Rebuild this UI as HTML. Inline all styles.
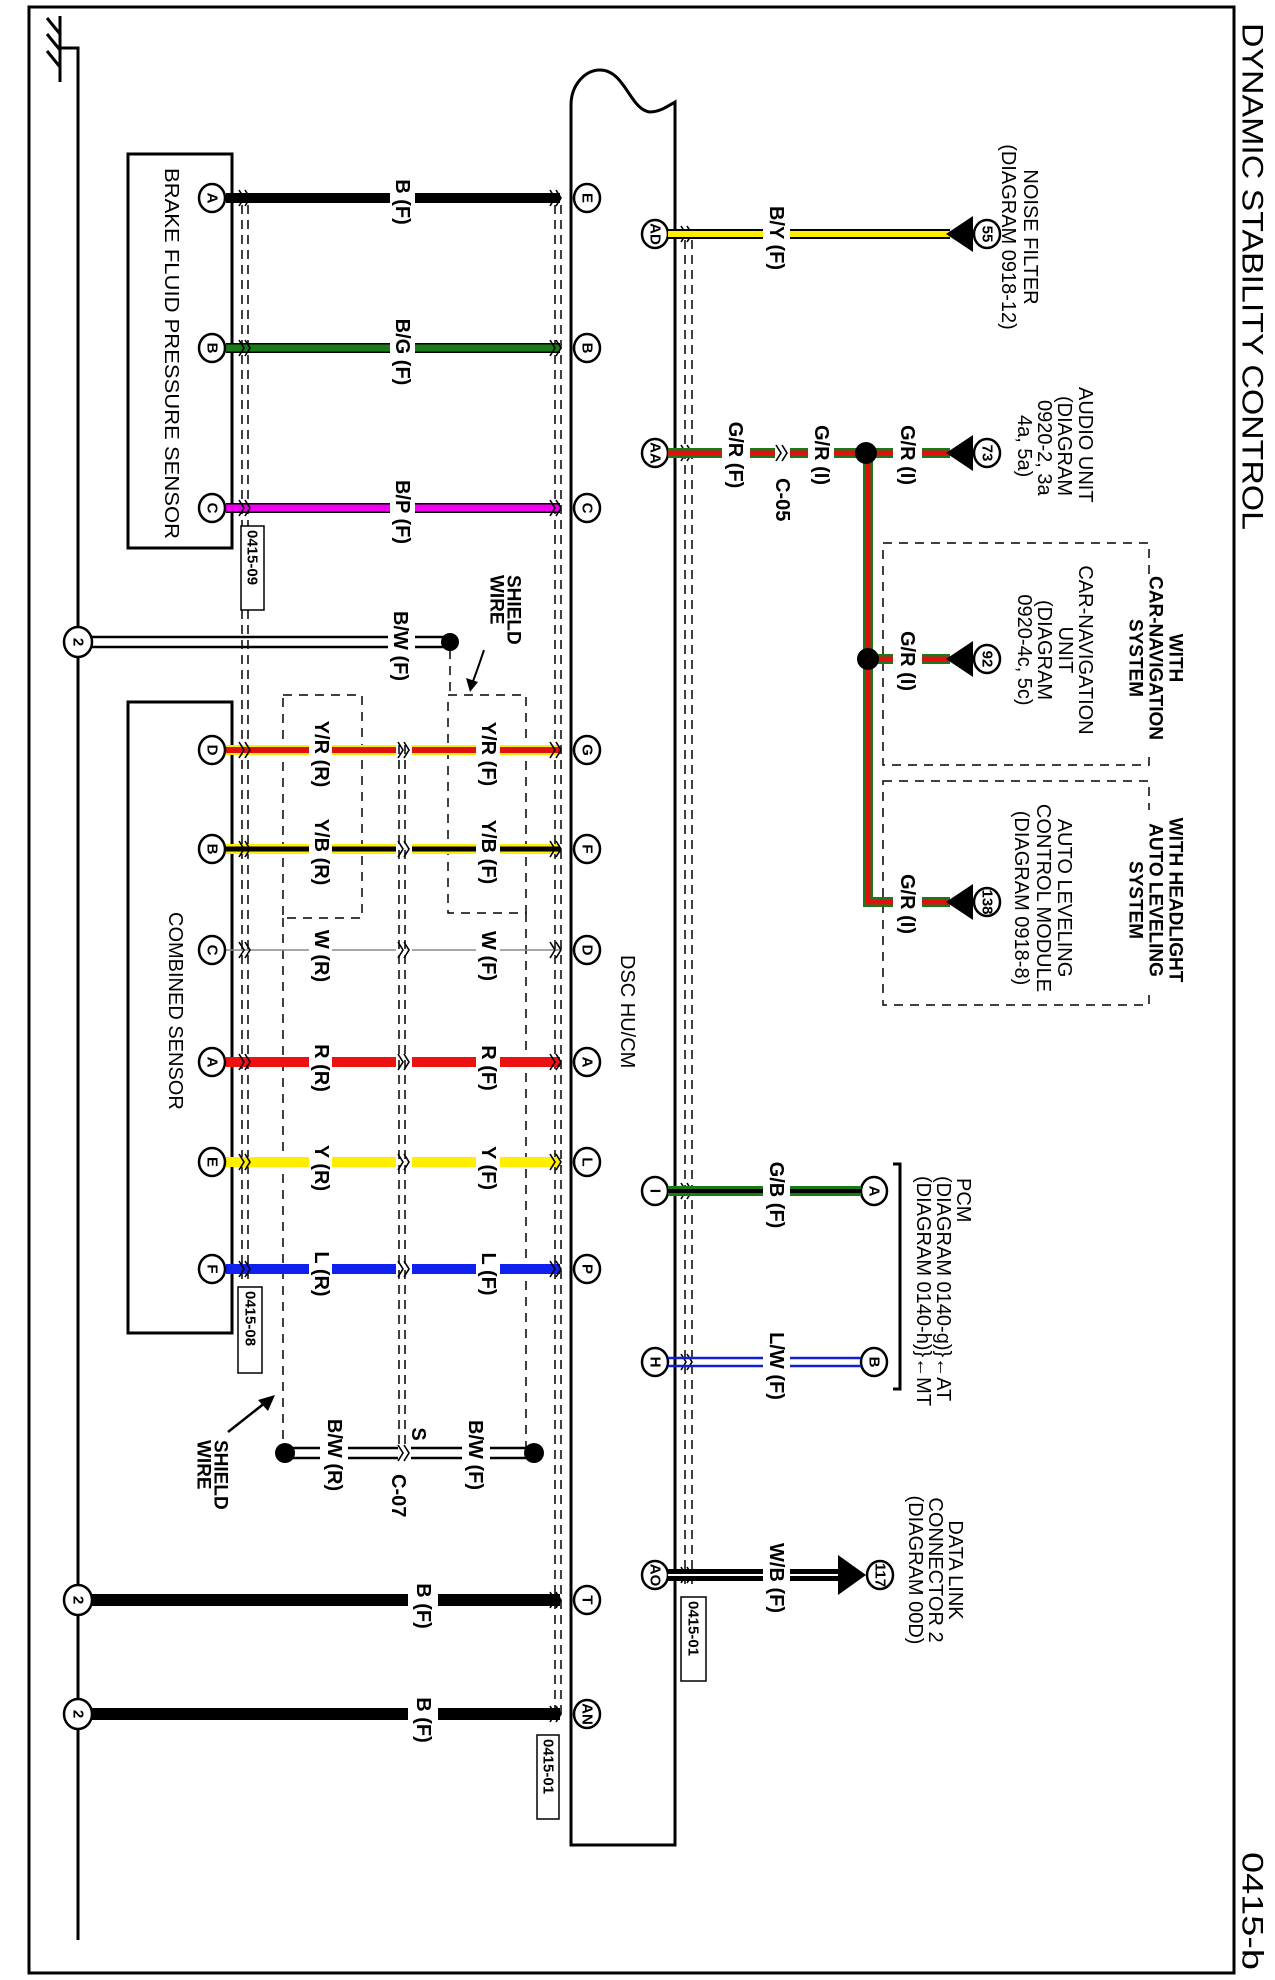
<!DOCTYPE html>
<html><head><meta charset="utf-8"><style>
html,body{margin:0;padding:0;background:#fff;}
svg{display:block;}
text{font-family:"Liberation Sans",Arial,sans-serif;fill:#000;}
.wl{font-size:20px;font-weight:bold;}
.cl{font-size:20px;}
.bl{font-size:19px;font-weight:bold;}
.pn{font-size:15px;font-weight:bold;}
</style></head><body>
<svg width="1275" height="1980" viewBox="0 0 1275 1980" xmlns="http://www.w3.org/2000/svg">
<defs>
<g id="chev"><path d="M-6 -8 L-1 0 L-6 8 M0 -8 L5 0 L0 8" fill="none" stroke="#000" stroke-width="1.6"/></g>
</defs>
<rect x="29" y="7" width="1205" height="1966" fill="none" stroke="#000" stroke-width="3"/>
<text transform="translate(1252,23) rotate(90)" font-size="30" dominant-baseline="central" textLength="507" lengthAdjust="spacingAndGlyphs">DYNAMIC STABILITY CONTROL</text>
<text transform="translate(1252,1852) rotate(90)" font-size="30" dominant-baseline="central" textLength="118" lengthAdjust="spacingAndGlyphs">0415-b</text>

<g stroke="#000" stroke-width="3" fill="none">
<line x1="60" y1="16" x2="60" y2="82"/>
<polyline points="60,48 78,48 78,1940"/>
<line x1="47" y1="18" x2="60" y2="34"/>
<line x1="47" y1="34" x2="60" y2="50"/>
<line x1="47" y1="51" x2="60" y2="67"/>
</g>

<path d="M571 1845 L571 105 C571 85 585 70 600 70 C625 70 630 110 650 112 C660 112 668 106 675 102 L675 1845 Z" fill="none" stroke="#000" stroke-width="3"/>
<text class="cl" transform="translate(627,955) rotate(90)" dominant-baseline="central">DSC HU/CM</text>

<g stroke="#000" stroke-width="1.5" stroke-dasharray="9,6" fill="none">
<line x1="242" y1="205" x2="242" y2="1285"/><line x1="248" y1="205" x2="248" y2="1285"/>
<line x1="555" y1="205" x2="555" y2="1720"/><line x1="561" y1="205" x2="561" y2="1720"/>
<line x1="685" y1="240" x2="685" y2="1585"/><line x1="692" y1="240" x2="692" y2="1585"/>
<line x1="399" y1="745" x2="399" y2="1445"/><line x1="405" y1="745" x2="405" y2="1445"/>
</g>
<g stroke="#000" stroke-width="1.5" stroke-dasharray="9,7" fill="none">
<rect x="283" y="695" width="79" height="223"/>
<rect x="448" y="695" width="78" height="218"/>
<line x1="283" y1="918" x2="283" y2="1450"/>
<line x1="526" y1="913" x2="526" y2="1450"/>
<line x1="450" y1="650" x2="450" y2="695"/>
<rect x="883" y="543" width="266" height="222"/>
<rect x="883" y="781" width="266" height="224"/>
</g>

<rect x="128" y="154" width="104" height="394" fill="none" stroke="#000" stroke-width="3"/>
<text class="cl" transform="translate(171,168) rotate(90)" dominant-baseline="central" textLength="371" lengthAdjust="spacingAndGlyphs">BRAKE FLUID PRESSURE SENSOR</text>
<rect x="241" y="526" width="23" height="84" fill="#fff" stroke="#000" stroke-width="1.5"/>
<text transform="translate(252,530) rotate(90)" font-size="15" font-weight="bold" dominant-baseline="central">0415-09</text>

<rect x="128" y="702" width="104" height="631" fill="none" stroke="#000" stroke-width="3"/>
<text class="cl" transform="translate(175,912) rotate(90)" dominant-baseline="central">COMBINED SENSOR</text>
<rect x="238" y="1287" width="24" height="86" fill="#fff" stroke="#000" stroke-width="1.5"/>
<text transform="translate(250,1291) rotate(90)" font-size="15" font-weight="bold" dominant-baseline="central">0415-08</text>

<g>
<line x1="226" y1="198" x2="390" y2="198" stroke="#000" stroke-width="10"/>
<line x1="415" y1="198" x2="560" y2="198" stroke="#000" stroke-width="10"/>
<line x1="226" y1="348" x2="390" y2="348" stroke="#000" stroke-width="10"/>
<line x1="415" y1="348" x2="560" y2="348" stroke="#000" stroke-width="10"/>
<line x1="226" y1="348" x2="390" y2="348" stroke="#1a7a1a" stroke-width="7"/>
<line x1="415" y1="348" x2="560" y2="348" stroke="#1a7a1a" stroke-width="7"/>
<line x1="226" y1="508" x2="390" y2="508" stroke="#000" stroke-width="10"/>
<line x1="415" y1="508" x2="560" y2="508" stroke="#000" stroke-width="10"/>
<line x1="226" y1="508" x2="390" y2="508" stroke="#ee00ee" stroke-width="7"/>
<line x1="415" y1="508" x2="560" y2="508" stroke="#ee00ee" stroke-width="7"/>
</g>
<text class="wl" transform="translate(402,202) rotate(90)" text-anchor="middle" dominant-baseline="central">B (F)</text>
<text class="wl" transform="translate(402,352) rotate(90)" text-anchor="middle" dominant-baseline="central">B/G (F)</text>
<text class="wl" transform="translate(402,512) rotate(90)" text-anchor="middle" dominant-baseline="central">B/P (F)</text>

<g>
<g stroke-width="10"><line x1="226" y1="750" x2="309" y2="750" stroke="#ffee00"/><line x1="332" y1="750" x2="396" y2="750" stroke="#ffee00"/><line x1="412" y1="750" x2="476" y2="750" stroke="#ffee00"/><line x1="500" y1="750" x2="560" y2="750" stroke="#ffee00"/></g>
<g stroke-width="6"><line x1="226" y1="750" x2="309" y2="750" stroke="#e01010"/><line x1="332" y1="750" x2="396" y2="750" stroke="#e01010"/><line x1="412" y1="750" x2="476" y2="750" stroke="#e01010"/><line x1="500" y1="750" x2="560" y2="750" stroke="#e01010"/></g>
<g stroke-width="10"><line x1="226" y1="849" x2="309" y2="849" stroke="#ffee00"/><line x1="332" y1="849" x2="396" y2="849" stroke="#ffee00"/><line x1="412" y1="849" x2="476" y2="849" stroke="#ffee00"/><line x1="500" y1="849" x2="560" y2="849" stroke="#ffee00"/></g>
<g stroke-width="5"><line x1="226" y1="849" x2="309" y2="849" stroke="#000"/><line x1="332" y1="849" x2="396" y2="849" stroke="#000"/><line x1="412" y1="849" x2="476" y2="849" stroke="#000"/><line x1="500" y1="849" x2="560" y2="849" stroke="#000"/></g>
<g stroke-width="1.5" stroke="#888"><line x1="226" y1="950" x2="309" y2="950"/><line x1="332" y1="950" x2="396" y2="950"/><line x1="412" y1="950" x2="476" y2="950"/><line x1="500" y1="950" x2="560" y2="950"/></g>
<g stroke-width="10" stroke="#ee1111"><line x1="226" y1="1062" x2="309" y2="1062"/><line x1="332" y1="1062" x2="396" y2="1062"/><line x1="412" y1="1062" x2="476" y2="1062"/><line x1="500" y1="1062" x2="560" y2="1062"/></g>
<g stroke-width="10" stroke="#ffee00"><line x1="226" y1="1162" x2="309" y2="1162"/><line x1="332" y1="1162" x2="396" y2="1162"/><line x1="412" y1="1162" x2="476" y2="1162"/><line x1="500" y1="1162" x2="560" y2="1162"/></g>
<g stroke-width="10" stroke="#1020ee"><line x1="226" y1="1269" x2="309" y2="1269"/><line x1="332" y1="1269" x2="396" y2="1269"/><line x1="412" y1="1269" x2="476" y2="1269"/><line x1="500" y1="1269" x2="560" y2="1269"/></g>
</g>
<text class="wl" transform="translate(321,754) rotate(90)" text-anchor="middle" dominant-baseline="central">Y/R (R)</text>
<text class="wl" transform="translate(488,754) rotate(90)" text-anchor="middle" dominant-baseline="central">Y/R (F)</text>
<text class="wl" transform="translate(321,852) rotate(90)" text-anchor="middle" dominant-baseline="central">Y/B (R)</text>
<text class="wl" transform="translate(488,852) rotate(90)" text-anchor="middle" dominant-baseline="central">Y/B (F)</text>
<text class="wl" transform="translate(321,956) rotate(90)" text-anchor="middle" dominant-baseline="central">W (R)</text>
<text class="wl" transform="translate(488,956) rotate(90)" text-anchor="middle" dominant-baseline="central">W (F)</text>
<text class="wl" transform="translate(321,1068) rotate(90)" text-anchor="middle" dominant-baseline="central">R (R)</text>
<text class="wl" transform="translate(488,1068) rotate(90)" text-anchor="middle" dominant-baseline="central">R (F)</text>
<text class="wl" transform="translate(321,1168) rotate(90)" text-anchor="middle" dominant-baseline="central">Y (R)</text>
<text class="wl" transform="translate(488,1168) rotate(90)" text-anchor="middle" dominant-baseline="central">Y (F)</text>
<text class="wl" transform="translate(321,1274) rotate(90)" text-anchor="middle" dominant-baseline="central">L (R)</text>
<text class="wl" transform="translate(488,1274) rotate(90)" text-anchor="middle" dominant-baseline="central">L (F)</text>

<g>
<use href="#chev" x="245" y="198"/><use href="#chev" x="556" y="198"/>
<use href="#chev" x="245" y="348"/><use href="#chev" x="556" y="348"/>
<use href="#chev" x="245" y="508"/><use href="#chev" x="556" y="508"/>
<use href="#chev" x="245" y="750"/><use href="#chev" x="404" y="750"/><use href="#chev" x="556" y="750"/>
<use href="#chev" x="245" y="849"/><use href="#chev" x="404" y="849"/><use href="#chev" x="556" y="849"/>
<use href="#chev" x="245" y="950"/><use href="#chev" x="404" y="950"/><use href="#chev" x="556" y="950"/>
<use href="#chev" x="245" y="1062"/><use href="#chev" x="404" y="1062"/><use href="#chev" x="556" y="1062"/>
<use href="#chev" x="245" y="1162"/><use href="#chev" x="404" y="1162"/><use href="#chev" x="556" y="1162"/>
<use href="#chev" x="245" y="1269"/><use href="#chev" x="404" y="1269"/><use href="#chev" x="556" y="1269"/>
<use href="#chev" x="556" y="1600"/><use href="#chev" x="556" y="1714"/>
<use href="#chev" x="404" y="1453"/>
<use href="#chev" x="687" y="234"/><use href="#chev" x="687" y="453"/><use href="#chev" x="687" y="1191"/><use href="#chev" x="687" y="1362"/><use href="#chev" x="687" y="1575"/>
<use href="#chev" x="782" y="453"/>
</g>

<g fill="#fff" stroke="#000" stroke-width="2.5">
<ellipse cx="212" cy="198" rx="13" ry="14"/><ellipse cx="212" cy="348" rx="13" ry="14"/><ellipse cx="212" cy="508" rx="13" ry="14"/>
<ellipse cx="212" cy="750" rx="13" ry="14"/><ellipse cx="212" cy="849" rx="13" ry="14"/><ellipse cx="212" cy="950" rx="13" ry="14"/>
<ellipse cx="212" cy="1062" rx="13" ry="14"/><ellipse cx="212" cy="1162" rx="13" ry="14"/><ellipse cx="212" cy="1269" rx="13" ry="14"/>
<ellipse cx="587" cy="198" rx="13" ry="14"/><ellipse cx="587" cy="348" rx="13" ry="14"/><ellipse cx="587" cy="508" rx="13" ry="14"/>
<ellipse cx="587" cy="750" rx="13" ry="14"/><ellipse cx="587" cy="849" rx="13" ry="14"/><ellipse cx="587" cy="950" rx="13" ry="14"/>
<ellipse cx="587" cy="1062" rx="13" ry="14"/><ellipse cx="587" cy="1162" rx="13" ry="14"/><ellipse cx="587" cy="1269" rx="13" ry="14"/>
<ellipse cx="587" cy="1600" rx="13" ry="14"/><ellipse cx="587" cy="1714" rx="13" ry="14"/>
<ellipse cx="655" cy="234" rx="13" ry="14"/><ellipse cx="655" cy="453" rx="13" ry="14"/><ellipse cx="655" cy="1191" rx="13" ry="14"/><ellipse cx="655" cy="1362" rx="13" ry="14"/><ellipse cx="655" cy="1575" rx="13" ry="14"/>
<ellipse cx="874" cy="1191" rx="13" ry="14"/><ellipse cx="874" cy="1362" rx="13" ry="14"/>
<ellipse cx="78" cy="642" rx="14" ry="15"/><ellipse cx="78" cy="1600" rx="14" ry="15"/><ellipse cx="78" cy="1714" rx="14" ry="15"/>
<ellipse cx="987" cy="234" rx="13" ry="14"/><ellipse cx="987" cy="453" rx="13" ry="14"/><ellipse cx="987" cy="659" rx="13" ry="14"/><ellipse cx="987" cy="902" rx="13" ry="14"/><ellipse cx="880" cy="1575" rx="13" ry="14"/>
</g>
<text class="pn" transform="translate(212,198) rotate(90)" text-anchor="middle" dominant-baseline="central">A</text>
<text class="pn" transform="translate(212,348) rotate(90)" text-anchor="middle" dominant-baseline="central">B</text>
<text class="pn" transform="translate(212,508) rotate(90)" text-anchor="middle" dominant-baseline="central">C</text>
<text class="pn" transform="translate(212,750) rotate(90)" text-anchor="middle" dominant-baseline="central">D</text>
<text class="pn" transform="translate(212,849) rotate(90)" text-anchor="middle" dominant-baseline="central">B</text>
<text class="pn" transform="translate(212,950) rotate(90)" text-anchor="middle" dominant-baseline="central">C</text>
<text class="pn" transform="translate(212,1062) rotate(90)" text-anchor="middle" dominant-baseline="central">A</text>
<text class="pn" transform="translate(212,1162) rotate(90)" text-anchor="middle" dominant-baseline="central">E</text>
<text class="pn" transform="translate(212,1269) rotate(90)" text-anchor="middle" dominant-baseline="central">F</text>
<text class="pn" transform="translate(587,198) rotate(90)" text-anchor="middle" dominant-baseline="central">E</text>
<text class="pn" transform="translate(587,348) rotate(90)" text-anchor="middle" dominant-baseline="central">B</text>
<text class="pn" transform="translate(587,508) rotate(90)" text-anchor="middle" dominant-baseline="central">C</text>
<text class="pn" transform="translate(587,750) rotate(90)" text-anchor="middle" dominant-baseline="central">G</text>
<text class="pn" transform="translate(587,849) rotate(90)" text-anchor="middle" dominant-baseline="central">F</text>
<text class="pn" transform="translate(587,950) rotate(90)" text-anchor="middle" dominant-baseline="central">D</text>
<text class="pn" transform="translate(587,1062) rotate(90)" text-anchor="middle" dominant-baseline="central">A</text>
<text class="pn" transform="translate(587,1162) rotate(90)" text-anchor="middle" dominant-baseline="central">L</text>
<text class="pn" transform="translate(587,1269) rotate(90)" text-anchor="middle" dominant-baseline="central">P</text>
<text class="pn" transform="translate(587,1600) rotate(90)" text-anchor="middle" dominant-baseline="central">T</text>
<text class="pn" transform="translate(587,1714) rotate(90)" text-anchor="middle" dominant-baseline="central" font-size="12">AN</text>
<text class="pn" transform="translate(655,234) rotate(90)" text-anchor="middle" dominant-baseline="central" font-size="12">AD</text>
<text class="pn" transform="translate(655,453) rotate(90)" text-anchor="middle" dominant-baseline="central" font-size="12">AA</text>
<text class="pn" transform="translate(655,1191) rotate(90)" text-anchor="middle" dominant-baseline="central">I</text>
<text class="pn" transform="translate(655,1362) rotate(90)" text-anchor="middle" dominant-baseline="central">H</text>
<text class="pn" transform="translate(655,1575) rotate(90)" text-anchor="middle" dominant-baseline="central" font-size="12">AO</text>
<text class="pn" transform="translate(874,1191) rotate(90)" text-anchor="middle" dominant-baseline="central">A</text>
<text class="pn" transform="translate(874,1362) rotate(90)" text-anchor="middle" dominant-baseline="central">B</text>
<text class="pn" transform="translate(78,642) rotate(90)" text-anchor="middle" dominant-baseline="central" font-size="16">2</text>
<text class="pn" transform="translate(78,1600) rotate(90)" text-anchor="middle" dominant-baseline="central" font-size="16">2</text>
<text class="pn" transform="translate(78,1714) rotate(90)" text-anchor="middle" dominant-baseline="central" font-size="16">2</text>
<text class="pn" transform="translate(987,234) rotate(90)" text-anchor="middle" dominant-baseline="central" font-size="13">55</text>
<text class="pn" transform="translate(987,453) rotate(90)" text-anchor="middle" dominant-baseline="central" font-size="13">73</text>
<text class="pn" transform="translate(987,659) rotate(90)" text-anchor="middle" dominant-baseline="central" font-size="13">92</text>
<text class="pn" transform="translate(987,902) rotate(90)" text-anchor="middle" dominant-baseline="central" font-size="11">138</text>
<text class="pn" transform="translate(880,1575) rotate(90)" text-anchor="middle" dominant-baseline="central" font-size="11">117</text>

<g stroke="#000" stroke-width="2.5">
<line x1="92" y1="637" x2="388" y2="637"/><line x1="92" y1="647" x2="388" y2="647"/>
<line x1="415" y1="637" x2="450" y2="637"/><line x1="415" y1="647" x2="450" y2="647"/>
</g>
<circle cx="450" cy="642" r="9"/>
<text class="wl" transform="translate(400,646) rotate(90)" text-anchor="middle" dominant-baseline="central">B/W (F)</text>
<text class="bl" transform="translate(513,575) rotate(90)" dominant-baseline="central">SHIELD</text>
<text class="bl" transform="translate(496,575) rotate(90)" dominant-baseline="central">WIRE</text>
<path d="M484 650 Q478 668 472 684" fill="none" stroke="#000" stroke-width="2"/>
<polygon points="470,692 466,678 478,682"/>

<g stroke="#000" stroke-width="2.5">
<line x1="285" y1="1448" x2="320" y2="1448"/><line x1="285" y1="1458" x2="320" y2="1458"/>
<line x1="348" y1="1448" x2="398" y2="1448"/><line x1="348" y1="1458" x2="398" y2="1458"/>
<line x1="411" y1="1448" x2="462" y2="1448"/><line x1="411" y1="1458" x2="462" y2="1458"/>
<line x1="490" y1="1448" x2="534" y2="1448"/><line x1="490" y1="1458" x2="534" y2="1458"/>
</g>
<circle cx="285" cy="1453" r="10"/><circle cx="534" cy="1453" r="10"/>
<text class="wl" transform="translate(334,1455) rotate(90)" text-anchor="middle" dominant-baseline="central">B/W (R)</text>
<text class="wl" transform="translate(475,1455) rotate(90)" text-anchor="middle" dominant-baseline="central">B/W (F)</text>
<text class="wl" transform="translate(418,1434) rotate(90)" text-anchor="middle" dominant-baseline="central">S</text>
<text class="wl" transform="translate(398,1474) rotate(90)" dominant-baseline="central">C-07</text>
<text class="bl" transform="translate(220,1440) rotate(90)" dominant-baseline="central">SHIELD</text>
<text class="bl" transform="translate(203,1440) rotate(90)" dominant-baseline="central">WIRE</text>
<line x1="228" y1="1432" x2="266" y2="1402" stroke="#000" stroke-width="2.5"/>
<polygon points="275,1395 258,1400 268,1411"/>

<line x1="92" y1="1600" x2="408" y2="1600" stroke="#000" stroke-width="12"/>
<line x1="438" y1="1600" x2="560" y2="1600" stroke="#000" stroke-width="12"/>
<line x1="92" y1="1714" x2="408" y2="1714" stroke="#000" stroke-width="12"/>
<line x1="438" y1="1714" x2="560" y2="1714" stroke="#000" stroke-width="12"/>
<text class="wl" transform="translate(423,1606) rotate(90)" text-anchor="middle" dominant-baseline="central">B (F)</text>
<text class="wl" transform="translate(423,1720) rotate(90)" text-anchor="middle" dominant-baseline="central">B (F)</text>
<rect x="537" y="1735" width="22" height="84" fill="#fff" stroke="#000" stroke-width="1.5"/>
<text transform="translate(548,1739) rotate(90)" font-size="15" font-weight="bold" dominant-baseline="central">0415-01</text>

<line x1="668" y1="234" x2="763" y2="234" stroke="#000" stroke-width="10"/>
<line x1="790" y1="234" x2="950" y2="234" stroke="#000" stroke-width="10"/>
<line x1="668" y1="234" x2="763" y2="234" stroke="#ffee00" stroke-width="6"/>
<line x1="790" y1="234" x2="950" y2="234" stroke="#ffee00" stroke-width="6"/>
<polygon points="946,234 973,216 973,252"/>
<text class="wl" transform="translate(776,238) rotate(90)" text-anchor="middle" dominant-baseline="central">B/Y (F)</text>
<text class="cl" transform="translate(1030,237) rotate(90)" text-anchor="middle" dominant-baseline="central">NOISE FILTER</text>
<text class="cl" transform="translate(1008,237) rotate(90)" text-anchor="middle" dominant-baseline="central">(DIAGRAM 0918-12)</text>

<g stroke="#1a7a1a" stroke-width="10">
<line x1="668" y1="453" x2="722" y2="453"/><line x1="750" y1="453" x2="775" y2="453"/><line x1="790" y1="453" x2="808" y2="453"/><line x1="834" y1="453" x2="893" y2="453"/><line x1="922" y1="453" x2="950" y2="453"/>
<polyline points="868,453 868,902 893,902" fill="none"/><line x1="922" y1="902" x2="950" y2="902"/>
<line x1="868" y1="659" x2="893" y2="659"/><line x1="922" y1="659" x2="950" y2="659"/>
</g>
<g stroke="#e01010" stroke-width="5">
<line x1="668" y1="453" x2="722" y2="453"/><line x1="750" y1="453" x2="775" y2="453"/><line x1="790" y1="453" x2="808" y2="453"/><line x1="834" y1="453" x2="893" y2="453"/><line x1="922" y1="453" x2="950" y2="453"/>
<polyline points="868,453 868,902 893,902" fill="none"/><line x1="922" y1="902" x2="950" y2="902"/>
<line x1="868" y1="659" x2="893" y2="659"/><line x1="922" y1="659" x2="950" y2="659"/>
</g>
<circle cx="866" cy="453" r="11"/><circle cx="868" cy="659" r="11"/>
<polygon points="946,453 973,435 973,471"/><polygon points="946,659 973,641 973,677"/><polygon points="946,902 973,884 973,920"/>
<text class="wl" transform="translate(735,455) rotate(90)" text-anchor="middle" dominant-baseline="central">G/R (F)</text>
<text class="wl" transform="translate(821,455) rotate(90)" text-anchor="middle" dominant-baseline="central">G/R (I)</text>
<text class="wl" transform="translate(907,455) rotate(90)" text-anchor="middle" dominant-baseline="central">G/R (I)</text>
<text class="wl" transform="translate(907,661) rotate(90)" text-anchor="middle" dominant-baseline="central">G/R (I)</text>
<text class="wl" transform="translate(907,904) rotate(90)" text-anchor="middle" dominant-baseline="central">G/R (I)</text>
<text class="wl" transform="translate(782,478) rotate(90)" dominant-baseline="central">C-05</text>
<text class="cl" transform="translate(1085,387) rotate(90)" dominant-baseline="central">AUDIO UNIT</text>
<text class="cl" transform="translate(1064,396) rotate(90)" dominant-baseline="central">(DIAGRAM</text>
<text class="cl" transform="translate(1044,400) rotate(90)" dominant-baseline="central">0920-2, 3a</text>
<text class="cl" transform="translate(1024,415) rotate(90)" dominant-baseline="central">4a, 5a)</text>

<rect x="1125" y="575" width="60" height="175" fill="#fff"/>
<text class="bl" transform="translate(1175,658) rotate(90)" text-anchor="middle" dominant-baseline="central">WITH</text>
<text class="bl" transform="translate(1155,658) rotate(90)" text-anchor="middle" dominant-baseline="central">CAR-NAVIGATION</text>
<text class="bl" transform="translate(1135,658) rotate(90)" text-anchor="middle" dominant-baseline="central">SYSTEM</text>
<text class="cl" transform="translate(1085,650) rotate(90)" text-anchor="middle" dominant-baseline="central">CAR-NAVIGATION</text>
<text class="cl" transform="translate(1065,650) rotate(90)" text-anchor="middle" dominant-baseline="central">UNIT</text>
<text class="cl" transform="translate(1044,650) rotate(90)" text-anchor="middle" dominant-baseline="central">(DIAGRAM</text>
<text class="cl" transform="translate(1024,650) rotate(90)" text-anchor="middle" dominant-baseline="central">0920-4c, 5c)</text>

<rect x="1125" y="810" width="60" height="180" fill="#fff"/>
<text class="bl" transform="translate(1175,900) rotate(90)" text-anchor="middle" dominant-baseline="central">WITH HEADLIGHT</text>
<text class="bl" transform="translate(1155,900) rotate(90)" text-anchor="middle" dominant-baseline="central">AUTO LEVELING</text>
<text class="bl" transform="translate(1135,900) rotate(90)" text-anchor="middle" dominant-baseline="central">SYSTEM</text>
<text class="cl" transform="translate(1064,898) rotate(90)" text-anchor="middle" dominant-baseline="central">AUTO LEVELING</text>
<text class="cl" transform="translate(1043,898) rotate(90)" text-anchor="middle" dominant-baseline="central">CONTROL MODULE</text>
<text class="cl" transform="translate(1021,898) rotate(90)" text-anchor="middle" dominant-baseline="central">(DIAGRAM 0918-8)</text>

<line x1="668" y1="1191" x2="763" y2="1191" stroke="#1a7a1a" stroke-width="10"/>
<line x1="790" y1="1191" x2="861" y2="1191" stroke="#1a7a1a" stroke-width="10"/>
<line x1="668" y1="1191" x2="763" y2="1191" stroke="#000" stroke-width="4"/>
<line x1="790" y1="1191" x2="861" y2="1191" stroke="#000" stroke-width="4"/>
<text class="wl" transform="translate(776,1195) rotate(90)" text-anchor="middle" dominant-baseline="central">G/B (F)</text>
<g stroke="#1020cc" stroke-width="2.5">
<line x1="668" y1="1358" x2="763" y2="1358"/><line x1="668" y1="1366" x2="763" y2="1366"/>
<line x1="790" y1="1358" x2="861" y2="1358"/><line x1="790" y1="1366" x2="861" y2="1366"/>
</g>
<text class="wl" transform="translate(776,1366) rotate(90)" text-anchor="middle" dominant-baseline="central">L/W (F)</text>
<polyline points="893,1164 900,1164 900,1389 893,1389" fill="none" stroke="#000" stroke-width="3"/>
<text class="cl" transform="translate(963,1178) rotate(90)" dominant-baseline="central">PCM</text>
<text class="cl" transform="translate(943,1176) rotate(90)" dominant-baseline="central">(DIAGRAM 0140-g)}←AT</text>
<text class="cl" transform="translate(923,1176) rotate(90)" dominant-baseline="central">(DIAGRAM 0140-h)}←MT</text>

<line x1="668" y1="1575" x2="763" y2="1575" stroke="#000" stroke-width="12"/>
<line x1="790" y1="1575" x2="842" y2="1575" stroke="#000" stroke-width="12"/>
<line x1="668" y1="1575" x2="763" y2="1575" stroke="#fff" stroke-width="2"/>
<line x1="790" y1="1575" x2="842" y2="1575" stroke="#fff" stroke-width="2"/>
<polygon points="838,1555 866,1575 838,1595"/>
<text class="wl" transform="translate(776,1578) rotate(90)" text-anchor="middle" dominant-baseline="central">W/B (F)</text>
<text class="cl" transform="translate(955,1570) rotate(90)" text-anchor="middle" dominant-baseline="central">DATA LINK</text>
<text class="cl" transform="translate(935,1570) rotate(90)" text-anchor="middle" dominant-baseline="central">CONNECTOR 2</text>
<text class="cl" transform="translate(915,1570) rotate(90)" text-anchor="middle" dominant-baseline="central">(DIAGRAM 00D)</text>
<rect x="681" y="1597" width="25" height="84" fill="#fff" stroke="#000" stroke-width="1.5"/>
<text transform="translate(693,1601) rotate(90)" font-size="15" font-weight="bold" dominant-baseline="central">0415-01</text>
</svg>
</body></html>
